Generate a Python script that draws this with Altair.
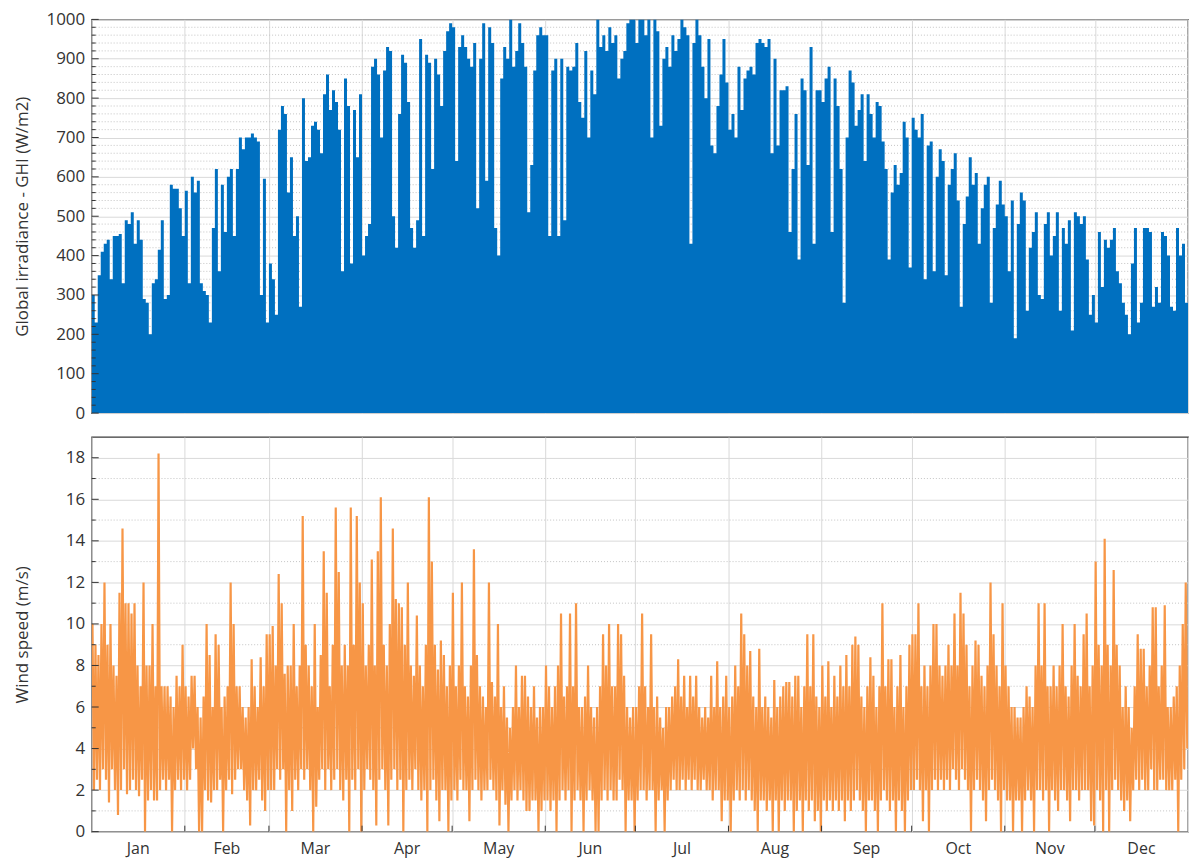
import altair as alt
import pandas as pd

# ---------------- data ----------------
month_names = ["Jan", "Feb", "Mar", "Apr", "May", "Jun",
               "Jul", "Aug", "Sep", "Oct", "Nov", "Dec"]
month_days = [31, 28, 31, 30, 31, 30, 31, 31, 30, 31, 30, 31]

# daily peak global horizontal irradiance (W/m2), one value per day
ghi_peak = [
    300, 230, 350, 410, 430, 440, 340, 450, 450, 455, 330, 490, 480, 510, 430, 490, 440, 290, 280, 200, 330, 340, 415, 490, 290, 300, 580, 570, 570, 520, 450,
    565, 330, 600, 560, 590, 330, 310, 300, 230, 470, 620, 360, 580, 460, 600, 620, 450, 620, 700, 670, 700, 700, 710, 700, 690, 300, 595, 230,
    380, 340, 250, 720, 780, 760, 560, 650, 450, 500, 270, 800, 640, 650, 730, 740, 720, 660, 810, 860, 770, 820, 790, 720, 360, 850, 780, 380, 770, 650, 810,
    400, 450, 480, 880, 900, 860, 700, 870, 930, 920, 500, 420, 760, 910, 890, 790, 470, 420, 490, 950, 450, 910, 890, 620, 900, 860, 780, 920, 970, 990,
    980, 640, 930, 960, 930, 900, 880, 940, 520, 900, 990, 590, 980, 940, 470, 400, 850, 930, 900, 1000, 880, 920, 990, 940, 880, 510, 630, 870, 960, 980, 960,
    960, 450, 870, 900, 450, 900, 490, 880, 870, 880, 940, 790, 750, 920, 700, 870, 810, 1000, 930, 960, 920, 980, 940, 960, 850, 900, 920, 990, 1000, 1000,
    940, 1000, 1000, 960, 1000, 700, 1000, 970, 730, 900, 930, 880, 960, 920, 950, 1000, 980, 960, 430, 940, 1000, 960, 880, 800, 950, 680, 660, 780, 860, 950, 840,
    720, 760, 700, 880, 770, 850, 870, 880, 860, 940, 950, 940, 930, 950, 660, 900, 680, 820, 820, 830, 460, 620, 760, 390, 850, 820, 630, 930, 430, 820, 820,
    790, 850, 880, 460, 850, 780, 620, 280, 700, 870, 840, 730, 770, 810, 640, 810, 760, 700, 790, 780, 690, 620, 390, 560, 630, 580, 610, 740, 700, 370,
    750, 720, 700, 760, 340, 680, 690, 360, 600, 670, 640, 350, 580, 620, 660, 540, 270, 480, 550, 650, 580, 610, 430, 520, 580, 600, 280, 470, 530, 590, 530,
    500, 360, 540, 190, 480, 560, 540, 260, 420, 460, 510, 300, 290, 480, 510, 400, 450, 510, 260, 470, 430, 490, 210, 510, 500, 480, 500, 390, 250, 300,
    230, 460, 320, 440, 420, 440, 470, 360, 330, 280, 250, 200, 380, 470, 230, 280, 470, 470, 460, 270, 320, 280, 460, 450, 400, 270, 260, 470, 400, 430, 280,
]

# daily high and low wind speed (m/s)
wind_hi = [
    10, 9, 8.5, 10, 12, 9, 10, 8, 7.5, 11.5, 14.6, 11, 11, 10.5, 11, 8, 7, 12, 8, 8, 10, 7, 18.2, 7, 7, 7, 6.5, 6, 7.5, 7, 9,
    7, 6.5, 7.5, 7.5, 6, 5.5, 6.5, 10, 8.5, 6, 9.5, 9, 6, 6.5, 7, 12, 10, 7, 7, 6, 5.5, 6, 8.3, 7, 6, 8.4, 7, 9.5,
    9.5, 9.9, 8, 12.4, 11, 7.6, 8, 8, 10, 7, 8, 15.2, 9, 8, 7, 10, 6, 8.5, 13.5, 11.5, 7, 9, 15.6, 12.5, 8, 9, 8, 15.6, 9, 15.2, 12,
    11, 8, 9, 13.1, 8, 13.5, 16.1, 9, 8, 10, 14.6, 11.2, 11, 10.8, 9, 12, 8, 7.5, 10.4, 8, 7, 9, 16.1, 13, 9, 7.8, 9.2, 8.5, 7, 8,
    11.5, 7, 8, 12, 7, 6.5, 8, 13.6, 8.5, 7, 6.5, 6, 12, 7.2, 6.5, 10, 6, 7, 5.5, 5, 6, 8, 6, 7.5, 7.5, 6.5, 6, 7, 5.5, 6, 6,
    8, 7, 6, 7, 8, 10.5, 6.5, 7, 10.5, 7, 11, 6, 6, 6.5, 8, 6, 5.5, 6, 7, 9.5, 8, 10, 7, 7, 10, 9.5, 7.5, 6, 5.5, 6,
    6, 7, 10.5, 7, 6, 9.5, 6, 6.5, 5.5, 5, 6, 6, 6.5, 7, 8.3, 6.5, 7.5, 6, 7.5, 6.5, 7.5, 6, 5.5, 6, 5.5, 7.5, 6, 8.2, 6, 6.5, 7.5,
    6, 6.5, 8, 7, 10.5, 9.5, 8, 8.7, 6.5, 6, 8.8, 6, 6.5, 6, 5.5, 7.3, 6, 6.5, 7, 7.2, 7.2, 6.5, 7.5, 7.5, 6, 7, 9.5, 7, 9.5, 6.5, 6,
    8, 6.5, 8.2, 6, 7.5, 6.5, 8, 7, 8.5, 7, 9, 9.4, 9, 6.5, 6, 7, 8.4, 7.5, 6, 7, 11, 7, 8.3, 8.3, 6, 7, 8.5, 6, 7, 9,
    9.5, 9.5, 11, 7, 8, 7, 8, 10, 10, 8, 7.5, 8, 9, 8, 10.5, 8, 11.5, 10.5, 9, 7, 8, 9.2, 9, 7.5, 7, 8, 12, 9.5, 8, 7, 11,
    8, 7, 6, 6, 5.5, 5.5, 6, 7, 6.5, 6, 8, 11, 8, 11, 7, 7, 8, 7, 8, 10, 7, 6.5, 8, 10, 7.5, 7, 9.5, 10.5, 7, 8,
    13, 9, 8, 14.1, 9, 8, 12.6, 9, 8, 6, 7, 6, 5, 7, 9.5, 8.8, 8.8, 7, 8, 10.8, 10.8, 7, 8, 10.9, 6, 6, 6.5, 7, 8, 10, 12,
]
wind_lo = [
    2, 2.5, 2, 3, 2.5, 1.4, 3, 2, 0.8, 2, 3, 1.8, 2, 2.5, 2, 1.7, 2.5, 0, 1.5, 2, 1.5, 1.5, 2, 2.5, 2, 2.5, 0, 2, 2.5, 2, 2.5,
    2, 2.5, 4, 3, 0, 0, 2, 1.5, 1.4, 2, 2, 2.5, 0, 2, 2.5, 1.8, 2.5, 3, 3, 2, 1.5, 0.3, 2, 2, 2.5, 1.5, 1, 2,
    2, 2, 3, 2.5, 3, 0, 2, 1, 2.5, 2, 3, 2.5, 3, 2, 0, 1.2, 2.5, 3, 2, 3, 2, 2.5, 3, 2, 1.5, 2.5, 0, 2.5, 2, 3, 0,
    2, 3, 2.5, 2, 0.3, 2.5, 3, 2, 0.3, 2.5, 3, 2, 2.5, 0, 2, 2.5, 2, 3, 2, 1.5, 2, 0, 2, 2.5, 1.5, 0.5, 2, 2, 0, 1.5,
    2, 1.5, 2.5, 2, 2, 0.5, 2, 2.5, 2, 1.5, 2, 2, 2.5, 2, 1.5, 0.3, 2, 1.3, 0, 1.5, 2, 1.5, 2, 1.5, 1, 1, 1.5, 1.5, 0, 1, 1.5,
    1.5, 1, 1.5, 0, 1.5, 2, 1.5, 2, 0, 1.5, 2, 1.5, 0, 1.5, 2, 1.5, 0, 0, 1.5, 2, 1.5, 2, 1.5, 1.5, 2.5, 2, 0, 1.5, 1.5, 0,
    1.5, 2, 2, 1.5, 2, 2, 0, 1.5, 2, 0, 1.5, 2, 2.5, 2, 2, 2.5, 2, 2.5, 2, 2.5, 2, 2, 2.5, 2, 2, 1.5, 2, 2, 0.5, 1.5, 1.5,
    0, 1.5, 2, 1.5, 2, 1.5, 2, 1.5, 1, 0, 1.5, 1.5, 1, 1.5, 0, 1.5, 0, 1.5, 1, 1.5, 1.5, 0, 1, 1.5, 0, 1.5, 1, 1.5, 0.5, 1, 0,
    1.5, 1, 1.5, 1, 1.5, 1, 1.5, 0.5, 1.5, 1, 1.5, 2, 1.5, 1, 0, 1.5, 1.5, 1, 0, 1.5, 2, 1.5, 1, 1.5, 0, 1.5, 1, 0, 1.5, 2,
    2, 2.5, 2, 0.5, 2, 0, 2, 2.5, 2, 2.5, 2, 2.5, 2, 3, 2.5, 2, 3, 2.5, 2, 0, 2, 2.5, 2, 1.5, 0.5, 2, 2.5, 2, 1.5, 0, 2,
    1.5, 1.5, 0, 1.5, 1.5, 0, 1.5, 2, 1.5, 0, 2, 2, 1.5, 2, 0, 2, 1.5, 1, 2, 2, 1.5, 0.5, 2, 2, 1.5, 2, 2, 2, 0.5, 0.3,
    2, 1.5, 0, 2, 0, 2, 2.5, 2, 1.5, 1, 1.5, 0.5, 2, 2.5, 2, 2.5, 2, 2, 3, 2, 2, 2.5, 2.5, 2, 2, 2, 2.5, 0, 2.5, 3, 4,
]

ghi_major = list(range(0, 1001, 100))
ghi_minor = [v for v in range(20, 1000, 20) if v % 100 != 0]
wind_major = list(range(0, 19, 2))
wind_minor = list(range(1, 19, 2))

assert len(ghi_peak) == 365 and len(wind_hi) == 365 and len(wind_lo) == 365

# ---------------- tables ----------------
month_starts = [sum(month_days[:i]) for i in range(13)]
month_mids = [month_starts[i] + month_days[i] / 2 for i in range(12)]
months_df = pd.DataFrame({"m": month_names, "mid": month_mids})
bounds_df = pd.DataFrame({"b": month_starts[1:12]})

ghi_df = pd.DataFrame({"day": list(range(365)) + [365],
                       "ghi": ghi_peak + [ghi_peak[-1]]})
w_x, w_y = [], []
for d in range(365):
    w_x += [d + 0.25, d + 0.75]
    w_y += [wind_hi[d], wind_lo[d]]
wind_df = pd.DataFrame({"t": w_x, "ws": w_y})

# ---------------- styling ----------------
W, H1, H2 = 1100, 395, 396
FONT = "Open Sans"
TXT = "#333333"
GRID = "#d9d9d9"
DOT = "#c4c4c4"
BLUE = "#0070C0"
ORANGE = "#F79646"

xscale = alt.Scale(domain=[0, 365], nice=False, zero=False)
x_grid_axis = alt.Axis(values=month_starts, grid=True, gridColor=GRID, gridWidth=1,
                       labels=False, ticks=False, domain=False, title=None)
ghi_scale = alt.Scale(domain=[0, 1000], nice=False)
wind_scale = alt.Scale(domain=[0, 19], nice=False)


def y_axis(values, title):
    return alt.Axis(values=values, format="d", grid=True, gridColor=GRID, gridWidth=1,
                    ticks=False, tickSize=0, domain=False, labelPadding=7,
                    labelFontSize=17, labelFont=FONT, labelColor=TXT,
                    title=title, titleFontSize=17, titleFont=FONT, titleColor=TXT,
                    titleFontWeight="normal", titlePadding=14,
                    minExtent=46, maxExtent=46)


def minor_grid(vals, scale, axis):
    return alt.Chart(pd.DataFrame({"v": vals})).mark_rule(
        color=DOT, strokeWidth=1, strokeDash=[1, 2]
    ).encode(y=alt.Y("v:Q", scale=scale, axis=axis))


def y_ticks(vals, scale, length, axis):
    return alt.Chart(pd.DataFrame({"v": vals})).mark_rule(
        color="#333333", strokeWidth=1
    ).encode(y=alt.Y("v:Q", scale=scale, axis=axis),
             x=alt.value(0), x2=alt.value(length))


# ---------------- top: GHI ----------------
ghi_axis = y_axis(ghi_major, "Global irradiance - GHI (W/m2)")
ghi_area = alt.Chart(ghi_df).mark_area(
    interpolate="step-after", color=BLUE, opacity=1, clip=True
).encode(
    x=alt.X("day:Q", scale=xscale, axis=x_grid_axis),
    y=alt.Y("ghi:Q", scale=ghi_scale, axis=ghi_axis),
)

top = alt.layer(
    minor_grid(ghi_minor, ghi_scale, ghi_axis),
    ghi_area,
    y_ticks(ghi_major, ghi_scale, 7, ghi_axis),
    y_ticks(ghi_minor, ghi_scale, 4, ghi_axis),
).properties(width=W, height=H1)

# ---------------- bottom: wind ----------------
wind_axis = y_axis(wind_major, "Wind speed (m/s)")
wind_line = alt.Chart(wind_df).mark_line(
    color=ORANGE, strokeWidth=2.2, strokeJoin="bevel", clip=True
).encode(
    x=alt.X("t:Q", scale=xscale, axis=x_grid_axis),
    y=alt.Y("ws:Q", scale=wind_scale, axis=wind_axis),
)

x_ticks = alt.Chart(bounds_df).mark_rule(color="#333333", strokeWidth=1).encode(
    x=alt.X("b:Q", scale=xscale, axis=x_grid_axis),
    y=alt.value(H2 - 6), y2=alt.value(H2),
)

month_labels = alt.Chart(months_df).mark_text(
    font=FONT, fontSize=16, color=TXT, align="center", baseline="middle"
).encode(
    x=alt.X("mid:Q", scale=xscale, axis=x_grid_axis),
    y=alt.value(H2 + 17),
    text="m:N",
)

bottom = alt.layer(
    minor_grid(wind_minor, wind_scale, wind_axis),
    wind_line,
    y_ticks(wind_major, wind_scale, 7, wind_axis),
    y_ticks(wind_minor, wind_scale, 4, wind_axis),
    x_ticks,
    month_labels,
).properties(width=W, height=H2)

chart = alt.vconcat(top, bottom, spacing=24, bounds="flush").properties(
    padding={"left": 5, "top": 0, "right": 0, "bottom": 0}
).configure_view(
    stroke="#3a3a3a", strokeWidth=1.3
).configure_axis(
    labelFont=FONT, titleFont=FONT
)

chart.save("out.html", embed_options={"renderer": "svg", "actions": False})
